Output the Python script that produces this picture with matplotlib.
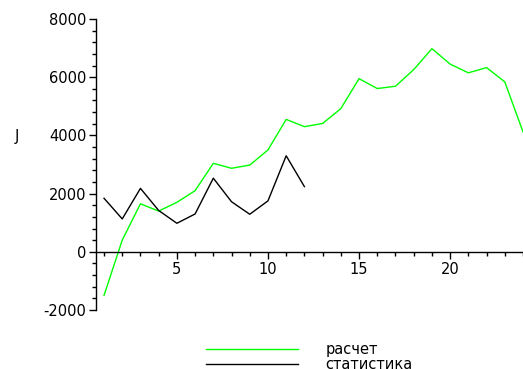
import matplotlib.pyplot as plt
from matplotlib.ticker import MultipleLocator

# data
x_calc = list(range(1, 25))
y_calc = [-1500, 400, 1650, 1400, 1700, 2100, 3040, 2870, 2980, 3500, 4550, 4300,
          4410, 4920, 5950, 5610, 5690, 6260, 6980, 6450, 6150, 6330, 5840, 4120]
x_stat = list(range(1, 13))
y_stat = [1840, 1130, 2180, 1420, 980, 1300, 2530, 1720, 1290, 1750, 3300, 2240]
labels = ["расчет", "статистика"]

plt.rcParams['font.family'] = ['DejaVu Sans']
plt.rcParams['axes.unicode_minus'] = False

W, H = 523, 369
fig = plt.figure(figsize=(W / 100, H / 100), dpi=100)
ax = fig.add_axes([96 / W, (H - 310) / H, (W - 96) / W, (310 - 19) / H])

ax.plot(x_calc, y_calc, color="#00ff00", lw=1, label=labels[0])
ax.plot(x_stat, y_stat, color="black", lw=1, label=labels[1])

ax.set_xlim(0.56, 24)
ax.set_ylim(-2000, 8000)

ax.spines["top"].set_visible(False)
ax.spines["right"].set_visible(False)
ax.spines["bottom"].set_position(("data", 0))
for s in ("left", "bottom"):
    ax.spines[s].set_linewidth(1)

ax.xaxis.set_major_locator(MultipleLocator(5))
ax.xaxis.set_minor_locator(MultipleLocator(1))
ax.yaxis.set_major_locator(MultipleLocator(2000))
ax.yaxis.set_minor_locator(MultipleLocator(400))
ax.tick_params(axis="both", which="major", length=5, width=1, labelsize=10.5)
ax.tick_params(axis="both", which="minor", length=3, width=1)
ax.tick_params(axis="x", which="both", direction="out", pad=2)
ax.tick_params(axis="y", which="both", pad=2)

ax.text(15, H - 137, "J", fontsize=10.5, transform=None, ha="left", va="center")

fig.legend(loc="upper left", bbox_to_anchor=(206 / W, (H - 342) / H),
           frameon=False, fontsize=10.5, handlelength=6.3, handletextpad=1.9,
           labelspacing=0.0, borderpad=0, borderaxespad=0)

fig.savefig("out.png", dpi=100)
